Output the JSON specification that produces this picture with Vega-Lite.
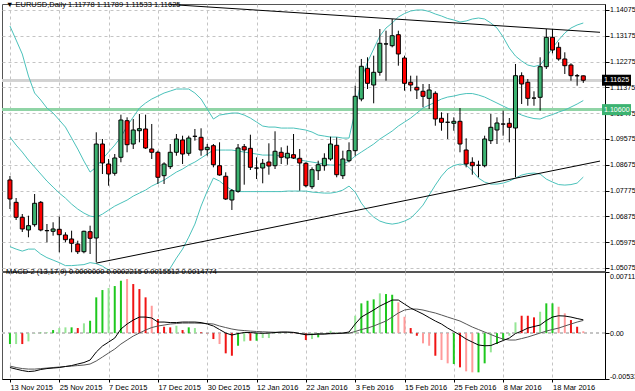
{
"$schema": "https://vega.github.io/schema/vega-lite/v6.json",
"padding": 0,
"background": "white",
"spacing": 1,
"bounds": "flush",
"resolve": {"scale": {"color": "independent"}},
"config": {
 "view": {"stroke": "#555", "strokeWidth": 1},
 "font": "Liberation Sans",
 "axis": {"labelFont": "Liberation Sans", "labelFontSize": 7.5, "labelColor": "#000", "domainColor": "#000", "tickColor": "#000", "gridColor": "#c4c4c4", "gridDash": [3, 3], "labelOverlap": false, "labelBound": false},
 "axisY": {"labelOverlap": false, "labelFontSize": 7.1},
 "axisRight": {"labelOverlap": false},
 "title": {"font": "Liberation Sans", "fontSize": 7.5, "fontWeight": "normal", "color": "#000"}
},
"datasets": {
 "tl": [
  {"line": "up", "i": 26, "p": 1.14266},
  {"line": "up", "i": 95.71, "p": 1.13297},
  {"line": "dn", "i": 14, "p": 1.05245},
  {"line": "dn", "i": 95.71, "p": 1.08804}
 ],
 "tags": [
  {"p": 1.11625, "bg": "k"},
  {"p": 1.106, "bg": "g"}
 ],
 "bars": [
{"i":0,"d":"2015-11-13","o":1.08145,"h":1.08284,"l":1.07133,"c":1.07482,"bu":1.13516,"bm":1.09642,"bl":1.05821,"m":-0.00400,"s":-0.00383,"hv":-0.001268,"hc":"g"},
{"i":1,"d":"2015-11-16","o":1.07366,"h":1.07516,"l":1.06749,"c":1.06843,"bu":1.13028,"bm":1.09363,"bl":1.05734,"m":-0.00418,"s":-0.00400,"hv":-0.001268,"hc":"lg"},
{"i":2,"d":"2015-11-17","o":1.06843,"h":1.06958,"l":1.06331,"c":1.06436,"bu":1.12539,"bm":1.09119,"bl":1.05664,"m":-0.00435,"s":-0.00412,"hv":-0.001268,"hc":"r"},
{"i":3,"d":"2015-11-18","o":1.06401,"h":1.06899,"l":1.06146,"c":1.06551,"bu":1.11771,"bm":1.08840,"bl":1.05734,"m":-0.00447,"s":-0.00418,"hv":-0.000957,"hc":"lg"},
{"i":4,"d":"2015-11-19","o":1.06586,"h":1.07656,"l":1.06516,"c":1.07332,"bu":1.11178,"bm":1.08595,"bl":1.05734,"m":-0.00441,"s":-0.00418,"hv":-0.00005,"hc":"lg"},
{"i":5,"d":"2015-11-20","o":1.07366,"h":1.07412,"l":1.06355,"c":1.06401,"bu":1.10934,"bm":1.08351,"bl":1.05559,"m":-0.00423,"s":-0.00412,"hv":0.00005,"hc":"g"},
{"i":6,"d":"2015-11-23","o":1.06380,"h":1.06610,"l":1.05971,"c":1.06376,"bu":1.10654,"bm":1.08107,"bl":1.05437,"m":-0.00412,"s":-0.00406,"hv":0.000093,"hc":"lg"},
{"i":7,"d":"2015-11-24","o":1.06355,"h":1.06669,"l":1.06202,"c":1.06436,"bu":1.10480,"bm":1.07897,"bl":1.05350,"m":-0.00406,"s":-0.00400,"hv":0.000361,"hc":"g"},
{"i":8,"d":"2015-11-25","o":1.06425,"h":1.06864,"l":1.05622,"c":1.06237,"bu":1.10236,"bm":1.07688,"bl":1.05262,"m":-0.00400,"s":-0.00394,"hv":0.000593,"hc":"lg"},
{"i":9,"d":"2015-11-26","o":1.06226,"h":1.06321,"l":1.05971,"c":1.06062,"bu":1.09991,"bm":1.07513,"bl":1.05158,"m":-0.00388,"s":-0.00388,"hv":0.000675,"hc":"lg"},
{"i":10,"d":"2015-11-27","o":1.06087,"h":1.06376,"l":1.05622,"c":1.05936,"bu":1.09607,"bm":1.07304,"bl":1.05158,"m":-0.00377,"s":-0.00383,"hv":0.000675,"hc":"g"},
{"i":11,"d":"2015-11-30","o":1.05912,"h":1.06027,"l":1.05563,"c":1.05643,"bu":1.09224,"bm":1.07130,"bl":1.05175,"m":-0.00359,"s":-0.00377,"hv":0.000593,"hc":"r"},
{"i":12,"d":"2015-12-01","o":1.05643,"h":1.06376,"l":1.05587,"c":1.06355,"bu":1.08805,"bm":1.06990,"bl":1.05193,"m":-0.00342,"s":-0.00371,"hv":0.00114,"hc":"lg"},
{"i":13,"d":"2015-12-02","o":1.06341,"h":1.06551,"l":1.05563,"c":1.06111,"bu":1.08421,"bm":1.06885,"bl":1.05262,"m":-0.00313,"s":-0.00359,"hv":0.001442,"hc":"g"},
{"i":14,"d":"2015-12-03","o":1.06121,"h":1.09808,"l":1.05273,"c":1.09400,"bu":1.08595,"bm":1.06850,"bl":1.05227,"m":-0.00220,"s":-0.00324,"hv":0.004164,"hc":"g"},
{"i":15,"d":"2015-12-04","o":1.09400,"h":1.09575,"l":1.08354,"c":1.08738,"bu":1.08875,"bm":1.06955,"bl":1.05140,"m":-0.00150,"s":-0.00278,"hv":0.005013,"hc":"g"},
{"i":16,"d":"2015-12-07","o":1.08703,"h":1.08877,"l":1.07946,"c":1.08354,"bu":1.09119,"bm":1.07095,"bl":1.05001,"m":-0.00104,"s":-0.00231,"hv":0.005245,"hc":"lg"},
{"i":17,"d":"2015-12-08","o":1.08378,"h":1.09051,"l":1.08295,"c":1.08912,"bu":1.09363,"bm":1.07234,"bl":1.04791,"m":-0.00057,"s":-0.00185,"hv":0.005478,"hc":"g"},
{"i":18,"d":"2015-12-09","o":1.08936,"h":1.10423,"l":1.08762,"c":1.10238,"bu":1.09642,"bm":1.07339,"bl":1.04547,"m":0.00048,"s":-0.00127,"hv":0.006094,"hc":"g"},
{"i":19,"d":"2015-12-10","o":1.10213,"h":1.10331,"l":1.09111,"c":1.09376,"bu":1.10026,"bm":1.07444,"bl":1.04338,"m":0.00106,"s":-0.00080,"hv":0.006292,"hc":"lr"},
{"i":20,"d":"2015-12-11","o":1.09400,"h":1.10273,"l":1.09226,"c":1.09889,"bu":1.10340,"bm":1.07583,"bl":1.04198,"m":0.00152,"s":-0.00034,"hv":0.00571,"hc":"r"},
{"i":21,"d":"2015-12-14","o":1.09864,"h":1.10447,"l":1.09459,"c":1.09934,"bu":1.10654,"bm":1.07688,"bl":1.04128,"m":0.00187,"s":0.00001,"hv":0.005129,"hc":"r"},
{"i":22,"d":"2015-12-15","o":1.09924,"h":1.10423,"l":1.09226,"c":1.09261,"bu":1.10829,"bm":1.07793,"bl":1.04163,"m":0.00187,"s":0.00036,"hv":0.004164,"hc":"r"},
{"i":23,"d":"2015-12-16","o":1.09226,"h":1.10098,"l":1.08877,"c":1.09111,"bu":1.10969,"bm":1.07932,"bl":1.04303,"m":0.00176,"s":0.00065,"hv":0.003187,"hc":"lr"},
{"i":24,"d":"2015-12-17","o":1.09111,"h":1.09167,"l":1.08005,"c":1.08239,"bu":1.11073,"bm":1.08037,"bl":1.04512,"m":0.00129,"s":0.00083,"hv":0.00164,"hc":"r"},
{"i":25,"d":"2015-12-18","o":1.08295,"h":1.08762,"l":1.08005,"c":1.08703,"bu":1.11178,"bm":1.08142,"bl":1.04791,"m":0.00129,"s":0.00094,"hv":0.000744,"hc":"r"},
{"i":26,"d":"2015-12-21","o":1.08609,"h":1.09400,"l":1.08528,"c":1.09111,"bu":1.11248,"bm":1.08281,"bl":1.05070,"m":0.00123,"s":0.00106,"hv":0.000675,"hc":"r"},
{"i":27,"d":"2015-12-22","o":1.09111,"h":1.09749,"l":1.08992,"c":1.09575,"bu":1.11318,"bm":1.08421,"bl":1.05419,"m":0.00123,"s":0.00112,"hv":0.000861,"hc":"lg"},
{"i":28,"d":"2015-12-23","o":1.09540,"h":1.09690,"l":1.08703,"c":1.09051,"bu":1.11318,"bm":1.08526,"bl":1.05734,"m":0.00129,"s":0.00117,"hv":0.000361,"hc":"r"},
{"i":29,"d":"2015-12-24","o":1.09076,"h":1.09690,"l":1.08992,"c":1.09610,"bu":1.11318,"bm":1.08665,"bl":1.06152,"m":0.00129,"s":0.00117,"hv":0.000675,"hc":"g"},
{"i":30,"d":"2015-12-28","o":1.09670,"h":1.09924,"l":1.09516,"c":1.09667,"bu":1.11178,"bm":1.08770,"bl":1.06606,"m":0.00129,"s":0.00117,"hv":0.000593,"hc":"lg"},
{"i":31,"d":"2015-12-29","o":1.09634,"h":1.09948,"l":1.08992,"c":1.09191,"bu":1.10969,"bm":1.08909,"bl":1.07234,"m":0.00123,"s":0.00114,"hv":0.000093,"hc":"r"},
{"i":32,"d":"2015-12-30","o":1.09202,"h":1.09400,"l":1.08992,"c":1.09285,"bu":1.10620,"bm":1.09049,"bl":1.07758,"m":0.00106,"s":0.00112,"hv":-0.00003,"hc":"r"},
{"i":33,"d":"2015-12-31","o":1.09341,"h":1.09400,"l":1.08587,"c":1.08678,"bu":1.10271,"bm":1.09189,"bl":1.08211,"m":0.00083,"s":0.00106,"hv":-0.000686,"hc":"r"},
{"i":34,"d":"2016-01-04","o":1.08643,"h":1.09459,"l":1.08295,"c":1.08319,"bu":1.10410,"bm":1.09189,"bl":1.08107,"m":0.00042,"s":0.00083,"hv":-0.001268,"hc":"lr"},
{"i":35,"d":"2016-01-05","o":1.08274,"h":1.08413,"l":1.07447,"c":1.07482,"bu":1.10445,"bm":1.09189,"bl":1.07932,"m":0.00001,"s":0.00065,"hv":-0.002349,"hc":"r"},
{"i":36,"d":"2016-01-06","o":1.07447,"h":1.07830,"l":1.07098,"c":1.07771,"bu":1.10480,"bm":1.09189,"bl":1.07793,"m":-0.00022,"s":0.00048,"hv":-0.002628,"hc":"r"},
{"i":37,"d":"2016-01-07","o":1.07750,"h":1.09400,"l":1.07701,"c":1.09261,"bu":1.10480,"bm":1.09154,"bl":1.07740,"m":-0.00005,"s":0.00036,"hv":-0.001465,"hc":"g"},
{"i":38,"d":"2016-01-08","o":1.09306,"h":1.09400,"l":1.07981,"c":1.09191,"bu":1.10410,"bm":1.09119,"bl":1.07740,"m":0.00007,"s":0.00030,"hv":-0.000957,"hc":"lg"},
{"i":39,"d":"2016-01-11","o":1.09250,"h":1.09725,"l":1.08493,"c":1.08587,"bu":1.10305,"bm":1.09084,"bl":1.07740,"m":0.00007,"s":0.00024,"hv":-0.000884,"hc":"r"},
{"i":40,"d":"2016-01-12","o":1.08563,"h":1.08936,"l":1.08179,"c":1.08559,"bu":1.10166,"bm":1.09049,"bl":1.07740,"m":0.00001,"s":0.00019,"hv":-0.000884,"hc":"g"},
{"i":41,"d":"2016-01-13","o":1.08563,"h":1.08877,"l":1.08029,"c":1.08727,"bu":1.10026,"bm":1.09014,"bl":1.07740,"m":-0.00002,"s":0.00016,"hv":-0.00057,"hc":"lg"},
{"i":42,"d":"2016-01-14","o":1.08772,"h":1.09424,"l":1.08329,"c":1.08633,"bu":1.09991,"bm":1.09014,"bl":1.07740,"m":0.00001,"s":0.00013,"hv":-0.00057,"hc":"lg"},
{"i":43,"d":"2016-01-15","o":1.08643,"h":1.09843,"l":1.08528,"c":1.09146,"bu":1.09991,"bm":1.09014,"bl":1.07740,"m":0.00007,"s":0.00010,"hv":0.000093,"hc":"g"},
{"i":44,"d":"2016-01-18","o":1.09111,"h":1.09285,"l":1.08703,"c":1.08936,"bu":1.09956,"bm":1.08979,"bl":1.07740,"m":0.00013,"s":0.00009,"hv":0.00005,"hc":"g"},
{"i":45,"d":"2016-01-19","o":1.08912,"h":1.09341,"l":1.08678,"c":1.09076,"bu":1.09956,"bm":1.08944,"bl":1.07758,"m":0.00013,"s":0.00009,"hv":0.00008,"hc":"lg"},
{"i":46,"d":"2016-01-20","o":1.09027,"h":1.09749,"l":1.08877,"c":1.08912,"bu":1.09956,"bm":1.08909,"bl":1.07758,"m":0.00009,"s":0.00007,"hv":0.00003,"hc":"r"},
{"i":47,"d":"2016-01-21","o":1.08901,"h":1.09226,"l":1.07771,"c":1.08738,"bu":1.09922,"bm":1.08840,"bl":1.07758,"m":-0.00005,"s":-0.00005,"hv":-0.00005,"hc":"r"},
{"i":48,"d":"2016-01-22","o":1.08727,"h":1.08762,"l":1.07890,"c":1.07946,"bu":1.09887,"bm":1.08805,"bl":1.07758,"m":-0.00019,"s":-0.00010,"hv":-0.000802,"hc":"r"},
{"i":49,"d":"2016-01-25","o":1.07911,"h":1.08587,"l":1.07830,"c":1.08504,"bu":1.09817,"bm":1.08770,"bl":1.07723,"m":-0.00016,"s":-0.00013,"hv":-0.000686,"hc":"lg"},
{"i":50,"d":"2016-01-26","o":1.08469,"h":1.08818,"l":1.08144,"c":1.08678,"bu":1.09712,"bm":1.08735,"bl":1.07705,"m":-0.00010,"s":-0.00010,"hv":-0.000489,"hc":"g"},
{"i":51,"d":"2016-01-27","o":1.08643,"h":1.09076,"l":1.08469,"c":1.08901,"bu":1.09677,"bm":1.08700,"bl":1.07688,"m":-0.00010,"s":-0.00010,"hv":-0.0001,"hc":"lg"},
{"i":52,"d":"2016-01-28","o":1.08877,"h":1.09655,"l":1.08818,"c":1.09400,"bu":1.09642,"bm":1.08665,"bl":1.07688,"m":-0.00002,"s":-0.00008,"hv":0.000279,"hc":"lg"},
{"i":53,"d":"2016-01-29","o":1.09355,"h":1.09634,"l":1.08239,"c":1.08329,"bu":1.09642,"bm":1.08665,"bl":1.07723,"m":-0.00002,"s":-0.00005,"hv":0.00005,"hc":"g"},
{"i":54,"d":"2016-02-01","o":1.08295,"h":1.09167,"l":1.08179,"c":1.08877,"bu":1.09607,"bm":1.08700,"bl":1.07793,"m":0.00001,"s":-0.00002,"hv":0.00003,"hc":"g"},
{"i":55,"d":"2016-02-02","o":1.08818,"h":1.09459,"l":1.08762,"c":1.09167,"bu":1.09607,"bm":1.08805,"bl":1.07932,"m":0.00013,"s":-0.00001,"hv":0.00005,"hc":"g"},
{"i":56,"d":"2016-02-03","o":1.09167,"h":1.11434,"l":1.08992,"c":1.11064,"bu":1.10550,"bm":1.08979,"bl":1.07723,"m":0.00106,"s":0.00019,"hv":0.002024,"hc":"lg"},
{"i":57,"d":"2016-02-04","o":1.10970,"h":1.12366,"l":1.10890,"c":1.12111,"bu":1.11667,"bm":1.09119,"bl":1.07339,"m":0.00187,"s":0.00042,"hv":0.003466,"hc":"g"},
{"i":58,"d":"2016-02-05","o":1.12041,"h":1.12425,"l":1.11319,"c":1.11517,"bu":1.12260,"bm":1.09258,"bl":1.07060,"m":0.00228,"s":0.00059,"hv":0.003768,"hc":"g"},
{"i":59,"d":"2016-02-08","o":1.11458,"h":1.12481,"l":1.10820,"c":1.11901,"bu":1.12714,"bm":1.09398,"bl":1.06850,"m":0.00269,"s":0.00083,"hv":0.003931,"hc":"g"},
{"i":60,"d":"2016-02-09","o":1.11901,"h":1.13412,"l":1.11783,"c":1.12913,"bu":1.13167,"bm":1.09573,"bl":1.06711,"m":0.00315,"s":0.00112,"hv":0.004629,"hc":"lg"},
{"i":61,"d":"2016-02-10","o":1.12889,"h":1.13353,"l":1.11608,"c":1.12892,"bu":1.13446,"bm":1.09712,"bl":1.06641,"m":0.00350,"s":0.00141,"hv":0.004547,"hc":"g"},
{"i":62,"d":"2016-02-11","o":1.12829,"h":1.13761,"l":1.12773,"c":1.13178,"bu":1.13621,"bm":1.09852,"bl":1.06606,"m":0.00385,"s":0.00187,"hv":0.004466,"hc":"g"},
{"i":63,"d":"2016-02-12","o":1.13213,"h":1.13353,"l":1.12132,"c":1.12540,"bu":1.13830,"bm":1.10026,"bl":1.06641,"m":0.00385,"s":0.00234,"hv":0.003582,"hc":"lr"},
{"i":64,"d":"2016-02-15","o":1.12400,"h":1.12481,"l":1.11260,"c":1.11517,"bu":1.13952,"bm":1.10166,"bl":1.06711,"m":0.00338,"s":0.00269,"hv":0.001907,"hc":"lr"},
{"i":65,"d":"2016-02-16","o":1.11553,"h":1.11783,"l":1.11239,"c":1.11458,"bu":1.14040,"bm":1.10305,"bl":1.06815,"m":0.00292,"s":0.00280,"hv":0.000593,"hc":"r"},
{"i":66,"d":"2016-02-17","o":1.11378,"h":1.11783,"l":1.10970,"c":1.11284,"bu":1.14075,"bm":1.10480,"bl":1.07025,"m":0.00257,"s":0.00280,"hv":-0.000302,"hc":"r"},
{"i":67,"d":"2016-02-18","o":1.11239,"h":1.11493,"l":1.10680,"c":1.11064,"bu":1.14075,"bm":1.10654,"bl":1.07269,"m":0.00222,"s":0.00269,"hv":-0.001186,"hc":"lr"},
{"i":68,"d":"2016-02-19","o":1.10994,"h":1.11493,"l":1.10621,"c":1.11284,"bu":1.14022,"bm":1.10759,"bl":1.07618,"m":0.00181,"s":0.00251,"hv":-0.001465,"hc":"lr"},
{"i":69,"d":"2016-02-22","o":1.11169,"h":1.11239,"l":1.10038,"c":1.10273,"bu":1.13935,"bm":1.10864,"bl":1.07967,"m":0.00141,"s":0.00234,"hv":-0.002628,"hc":"r"},
{"i":70,"d":"2016-02-23","o":1.10297,"h":1.10506,"l":1.09864,"c":1.10157,"bu":1.13865,"bm":1.10969,"bl":1.08281,"m":0.00106,"s":0.00211,"hv":-0.003128,"hc":"lr"},
{"i":71,"d":"2016-02-24","o":1.10160,"h":1.10471,"l":1.09575,"c":1.10157,"bu":1.13778,"bm":1.11038,"bl":1.08526,"m":0.00059,"s":0.00187,"hv":-0.003512,"hc":"lr"},
{"i":72,"d":"2016-02-25","o":1.10122,"h":1.10331,"l":1.09864,"c":1.10192,"bu":1.13726,"bm":1.11073,"bl":1.08648,"m":0.00019,"s":0.00164,"hv":-0.003594,"hc":"g"},
{"i":73,"d":"2016-02-26","o":1.10192,"h":1.10656,"l":1.09111,"c":1.09400,"bu":1.13656,"bm":1.11126,"bl":1.08700,"m":-0.00022,"s":0.00141,"hv":-0.003977,"hc":"r"},
{"i":74,"d":"2016-02-29","o":1.09191,"h":1.09599,"l":1.08587,"c":1.08703,"bu":1.13691,"bm":1.11160,"bl":1.08665,"m":-0.00069,"s":0.00106,"hv":-0.004443,"hc":"lr"},
{"i":75,"d":"2016-03-01","o":1.08762,"h":1.08936,"l":1.08329,"c":1.08643,"bu":1.13761,"bm":1.11160,"bl":1.08466,"m":-0.00104,"s":0.00071,"hv":-0.004559,"hc":"lr"},
{"i":76,"d":"2016-03-02","o":1.08660,"h":1.08818,"l":1.08239,"c":1.08657,"bu":1.13795,"bm":1.11108,"bl":1.08211,"m":-0.00138,"s":0.00042,"hv":-0.004559,"hc":"g"},
{"i":77,"d":"2016-03-03","o":1.08643,"h":1.09690,"l":1.08587,"c":1.09575,"bu":1.13761,"bm":1.11038,"bl":1.08072,"m":-0.00147,"s":0.00013,"hv":-0.003512,"hc":"g"},
{"i":78,"d":"2016-03-04","o":1.09516,"h":1.10447,"l":1.09400,"c":1.09983,"bu":1.13621,"bm":1.10934,"bl":1.08002,"m":-0.00144,"s":-0.00016,"hv":-0.002233,"hc":"lg"},
{"i":79,"d":"2016-03-07","o":1.09889,"h":1.10331,"l":1.09400,"c":1.10133,"bu":1.13446,"bm":1.10829,"bl":1.08002,"m":-0.00115,"s":-0.00045,"hv":-0.001268,"hc":"g"},
{"i":80,"d":"2016-03-08","o":1.10098,"h":1.10562,"l":1.09690,"c":1.10095,"bu":1.13132,"bm":1.10724,"bl":1.08037,"m":-0.00086,"s":-0.00069,"hv":-0.000802,"hc":"g"},
{"i":81,"d":"2016-03-09","o":1.10122,"h":1.10307,"l":1.09459,"c":1.09983,"bu":1.12748,"bm":1.10620,"bl":1.08107,"m":-0.00057,"s":-0.00080,"hv":-0.000302,"hc":"lg"},
{"i":82,"d":"2016-03-10","o":1.09958,"h":1.12191,"l":1.08239,"c":1.11783,"bu":1.12469,"bm":1.10515,"bl":1.08211,"m":-0.00005,"s":-0.00080,"hv":0.001256,"hc":"lg"},
{"i":83,"d":"2016-03-11","o":1.11783,"h":1.11901,"l":1.10796,"c":1.11493,"bu":1.12295,"bm":1.10410,"bl":1.08316,"m":0.00024,"s":-0.00063,"hv":0.002024,"hc":"r"},
{"i":84,"d":"2016-03-14","o":1.11553,"h":1.11668,"l":1.10736,"c":1.10994,"bu":1.12155,"bm":1.10340,"bl":1.08368,"m":0.00059,"s":-0.00045,"hv":0.002024,"hc":"r"},
{"i":85,"d":"2016-03-15","o":1.11004,"h":1.11239,"l":1.10736,"c":1.11001,"bu":1.12103,"bm":1.10288,"bl":1.08386,"m":0.00077,"s":-0.00022,"hv":0.001837,"hc":"r"},
{"i":86,"d":"2016-03-16","o":1.11029,"h":1.12425,"l":1.10562,"c":1.12097,"bu":1.12155,"bm":1.10271,"bl":1.08351,"m":0.00094,"s":0.00001,"hv":0.002489,"hc":"lg"},
{"i":87,"d":"2016-03-17","o":1.12097,"h":1.13412,"l":1.12017,"c":1.13122,"bu":1.12434,"bm":1.10358,"bl":1.08177,"m":0.00147,"s":0.00024,"hv":0.003466,"hc":"g"},
{"i":88,"d":"2016-03-18","o":1.13122,"h":1.13412,"l":1.12564,"c":1.12679,"bu":1.12748,"bm":1.10428,"bl":1.08072,"m":0.00187,"s":0.00042,"hv":0.003466,"hc":"g"},
{"i":89,"d":"2016-03-21","o":1.12773,"h":1.12948,"l":1.12306,"c":1.12366,"bu":1.13028,"bm":1.10515,"bl":1.07985,"m":0.00202,"s":0.00059,"hv":0.00307,"hc":"lr"},
{"i":90,"d":"2016-03-22","o":1.12366,"h":1.12599,"l":1.11842,"c":1.12132,"bu":1.13272,"bm":1.10585,"bl":1.07967,"m":0.00199,"s":0.00083,"hv":0.002303,"hc":"lr"},
{"i":91,"d":"2016-03-23","o":1.12156,"h":1.12215,"l":1.11608,"c":1.11783,"bu":1.13446,"bm":1.10689,"bl":1.07985,"m":0.00187,"s":0.00106,"hv":0.001524,"hc":"r"},
{"i":92,"d":"2016-03-24","o":1.11783,"h":1.11842,"l":1.11434,"c":1.11778,"bu":1.13551,"bm":1.10794,"bl":1.08037,"m":0.00170,"s":0.00129,"hv":0.000744,"hc":"r"},
{"i":93,"d":"2016-03-25","o":1.11778,"h":1.11789,"l":1.11533,"c":1.11625,"bu":1.13621,"bm":1.10916,"bl":1.08246,"m":0.0015512,"s":0.0014774,"hv":0.00022,"hc":"lr"}
 ]
},
"vconcat": [
 {
  "width": 603, "height": 267,
  "title": {"text": "▼ EURUSD,Daily  1.11778 1.11789 1.11533 1.11625", "anchor": "start", "frame": "group", "offset": -8, "baseline": "middle", "dx": 4},
  "data": {"name": "bars"},
  "encoding": {
   "y": {"type": "quantitative", "title": null, "scale": {"domain": [1.0497, 1.14284], "nice": false, "zero": false},
     "axis": {"orient": "right", "values": [1.05075, 1.05975, 1.06875, 1.07775, 1.08675, 1.09575, 1.10475, 1.11375, 1.12275, 1.13175, 1.14075], "format": ".5f", "grid": true, "tickSize": 4, "labelPadding": 0.5, "title": null, "labelOverlap": false, "labelBound": false}}
  },
  "layer": [
   {"mark": {"type": "rule", "color": "#d2d2d2", "strokeWidth": 2},
    "encoding": {"y": {"datum": 1.11625, "type": "quantitative"}}},
   {"mark": {"type": "rule", "color": "#8fd4a6", "strokeWidth": 2},
    "encoding": {"y": {"datum": 1.106, "type": "quantitative"}}},
   {"mark": {"type": "line", "color": "#4bc2bb", "strokeWidth": 1, "clip": true},
    "encoding": {"x": {"field": "i", "type": "quantitative", "scale": {"domain": [-0.4786, 95.71], "nice": false, "zero": false}, "axis": {"values": [0,4,8,12,16,20,24,28,32,36,40,44,48,52,56,60,64,68,72,76,80,84,88,92], "grid": true, "labels": false, "ticks": false, "domain": false, "title": null}},
     "y": {"field": "bu", "type": "quantitative"}}},
   {"mark": {"type": "line", "color": "#4bc2bb", "strokeWidth": 1, "clip": true},
    "encoding": {"x": {"field": "i", "type": "quantitative"},
     "y": {"field": "bm", "type": "quantitative"}}},
   {"mark": {"type": "line", "color": "#4bc2bb", "strokeWidth": 1, "clip": true},
    "encoding": {"x": {"field": "i", "type": "quantitative"},
     "y": {"field": "bl", "type": "quantitative"}}},
   {"mark": {"type": "rule", "color": "#000", "strokeWidth": 1, "clip": true},
    "encoding": {"x": {"field": "i", "type": "quantitative"},
     "y": {"field": "l", "type": "quantitative"}, "y2": {"field": "h"}}},
   {"mark": {"type": "bar", "width": 4, "stroke": "#000", "strokeWidth": 1, "clip": true},
    "encoding": {"x": {"field": "i", "type": "quantitative"},
     "y": {"field": "o", "type": "quantitative"}, "y2": {"field": "c"},
     "color": {"condition": {"test": "datum.c >= datum.o", "value": "#3cb371"}, "value": "#ff0000"}}},
   {"data": {"name": "tl"},
    "mark": {"type": "line", "color": "#000", "strokeWidth": 1, "clip": true},
    "encoding": {"x": {"field": "i", "type": "quantitative"},
     "y": {"field": "p", "type": "quantitative"}, "detail": {"field": "line"}}},
   {"data": {"name": "tags"},
    "mark": {"type": "rect", "clip": false, "xOffset": 2, "x2Offset": 31, "yOffset": -5.5, "y2Offset": 5.5},
    "encoding": {"x": {"datum": 95.71, "type": "quantitative"}, "x2": {"datum": 95.71},
     "y": {"field": "p", "type": "quantitative"}, "y2": {"field": "p"},
     "color": {"condition": {"test": "datum.bg == 'k'", "value": "#000000"}, "value": "#3cb371"}}},
   {"data": {"name": "tags"},
    "mark": {"type": "text", "clip": false, "align": "left", "baseline": "middle", "dx": 4, "color": "#fff", "fontSize": 7.1, "font": "Liberation Sans"},
    "encoding": {"x": {"datum": 95.71, "type": "quantitative"},
     "y": {"field": "p", "type": "quantitative"},
     "text": {"field": "p", "type": "quantitative", "format": ".5f"}}}
  ]
 },
 {
  "width": 603, "height": 107,
  "title": {"text": "MACD-2 (13,17,9) 0.0000000 0.0002215 0.0015512 0.0014774", "anchor": "start", "frame": "group", "offset": -8, "baseline": "middle", "dx": 4},
  "data": {"name": "bars"},
  "layer": [
   {"mark": {"type": "rule", "color": "#c4c4c4", "strokeDash": [3, 3]},
    "encoding": {"y": {"datum": 0, "type": "quantitative", "scale": {"domain": [-0.005334, 0.007112], "nice": false, "zero": false},
      "axis": {"orient": "right", "values": [-0.005334, 0, 0.007112], "labelExpr": "datum.value > 0.001 ? '0.007112' : (datum.value < -0.001 ? '-0.005334' : '0.00')", "labelFlush": true, "grid": false, "tickSize": 4, "labelPadding": 0.5, "title": null}}}},
   {"mark": {"type": "bar", "width": 2},
    "encoding": {"x": {"field": "i", "type": "quantitative", "scale": {"domain": [-0.4786, 95.71], "nice": false, "zero": false},
      "axis": {"values": [0,4,8,12,16,20,24,28,32,36,40,44,48,52,56,60,64,68,72,76,80,84,88,92], "grid": true, "labelExpr": "datum.value % 8 == 0 ? ['13 Nov 2015','25 Nov 2015','7 Dec 2015','17 Dec 2015','30 Dec 2015','12 Jan 2016','22 Jan 2016','3 Feb 2016','15 Feb 2016','25 Feb 2016','8 Mar 2016','18 Mar 2016'][datum.value/8] : ''", "labelAlign": "left", "labelPadding": 1, "tickSize": 3, "labelFlush": false, "title": null}},
     "y": {"field": "hv", "type": "quantitative", "title": null}, "y2": {"datum": 0},
     "color": {"field": "hc", "type": "nominal", "scale": {"domain": ["g", "lg", "r", "lr"], "range": ["#1ec81e", "#96e696", "#f01414", "#ff9a9a"]}, "legend": null}}},
   {"mark": {"type": "line", "color": "#555", "strokeWidth": 1},
    "encoding": {"x": {"field": "i", "type": "quantitative"}, "y": {"field": "s", "type": "quantitative", "title": null}}},
   {"mark": {"type": "line", "color": "#000", "strokeWidth": 1},
    "encoding": {"x": {"field": "i", "type": "quantitative"}, "y": {"field": "m", "type": "quantitative", "title": null}}}
  ]
 }
]
}
